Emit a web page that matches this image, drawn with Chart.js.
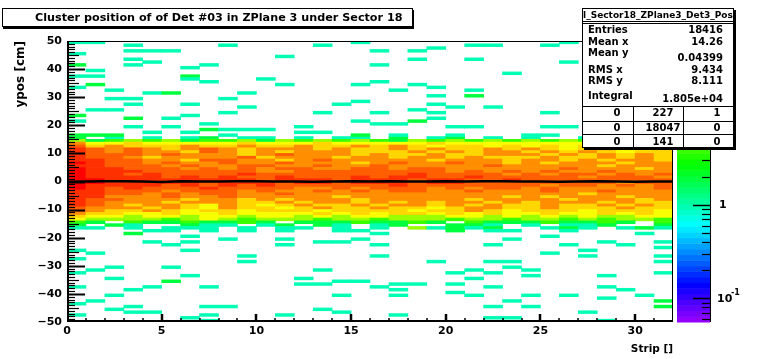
<!DOCTYPE html>
<html>
<head>
<meta charset="utf-8">
<script src="https://cdn.jsdelivr.net/npm/chart.js@4.4.1/dist/chart.umd.min.js"></script>
<style>
    html, body { margin: 0; padding: 0; background: #fff; }
    #wrap { position: relative; width: 775px; height: 359px; font-family: "DejaVu Sans", sans-serif; font-weight: bold; color: #000; }
    #wrap canvas { position: absolute; left: 0; top: 0; }
    .title-box { position: absolute; left: 2px; top: 8px; width: 411px; height: 19px; box-sizing: border-box; border: 1px solid #000; box-shadow: 1px 2px 0 #000; background: #fff; }
    .title-box span { position: absolute; left: 32px; top: 0; line-height: 17px; font-size: 11.2px; white-space: nowrap; }
    .stats { position: absolute; left: 582px; top: 8px; width: 152px; height: 140px; box-sizing: border-box; border: 1px solid #000; box-shadow: 2px 2px 0 #000; background: #fff; font-size: 10px; }
    .stats div { position: absolute; white-space: nowrap; line-height: 12px; height: 12px; }
    .stats .hline { height: 1px; background: #000; left: 0; right: 0; }
    .stats .vline { width: 1px; background: #000; top: 97px; bottom: 0; height: auto; }
    .stats .lbl { left: 5px; }
    .stats .val { right: 10px; text-align: right; }
    .stats .cell { width: 40px; margin-left: -20px; text-align: center; }
</style>
</head>
<body>
<div id="wrap">
    <canvas id="chart" width="775" height="359"></canvas>
    <div class="title-box"><span>Cluster position of of Det #03 in ZPlane 3 under Sector 18</span></div>
    <div class="stats">
        <div style="left:0;right:0;top:0;text-align:center;font-size:9px;">l_Sector18_ZPlane3_Det3_Pos</div>
        <div class="hline" style="top:12px"></div>
        <div class="hline" style="top:14px"></div>
        <div class="lbl" style="top:15px">Entries</div><div class="val" style="top:15px">18416</div>
        <div class="lbl" style="top:27px">Mean x</div><div class="val" style="top:27px">14.26</div>
        <div class="lbl" style="top:38px">Mean y</div><div class="val" style="top:43px">0.04399</div>
        <div class="lbl" style="top:55px">RMS x</div><div class="val" style="top:55px">9.434</div>
        <div class="lbl" style="top:66px">RMS y</div><div class="val" style="top:66px">8.111</div>
        <div class="lbl" style="top:81px">Integral</div><div class="val" style="top:84px">1.805e+04</div>
        <div class="hline" style="top:97px"></div>
        <div class="hline" style="top:112px"></div>
        <div class="hline" style="top:125px"></div>
        <div class="vline" style="left:50px"></div>
        <div class="vline" style="left:100px"></div>
        <div class="cell" style="left:34px;top:98px">0</div><div class="cell" style="left:80px;top:98px">227</div><div class="cell" style="left:134px;top:98px">1</div>
        <div class="cell" style="left:34px;top:113px">0</div><div class="cell" style="left:80px;top:113px">18047</div><div class="cell" style="left:134px;top:113px">0</div>
        <div class="cell" style="left:34px;top:127px">0</div><div class="cell" style="left:80px;top:127px">141</div><div class="cell" style="left:134px;top:127px">0</div>
    </div>
</div>
<script>
// colour scale range (log z)
const zMin = 0.056;
const zMax = 56;

// entries per letter used in the dense band
const levelCounts = { a: 1, b: 2, c: 4, d: 7, e: 11, f: 16, g: 22, h: 30, i: 40, j: 52 };

// dense band, one row per 1 cm bin, from bin [15,16) down to [-17,-16); one char per strip 0..31
const coreTopBin = 15;
const coreRows = [
    'b.a.a.ab .aa.a.aa .b.ab.a. a..a.a.a',
    'dbcdcdbc cdbdcdcd cbdcdcdc dcdcdcbc',
    'geefeeee efeeefee eeefeeee eeeeefee',
    'hfgfffgf fgffgffg fgfeffef efefeeff',
    'ihghgfgh gfgggfgf fgfgffgf gfefgfef',
    'ihghggfh gfgfgggf ffgfgfgg fgfgfeff',
    'ihhhghgg gfghgggf gffgffgg gfgfgfgf',
    'ihhgfggg ghfgggfg gfggfgff fgffgfgf',
    'iihhggfh hggfghgg gggfgggf ggfgfggf',
    'jihhghgg hgghgggf ghgghggf gfgggfgg',
    'iihhhghg ghhgghgg hggggghg ggggfggg',
    'jiihhhgh ghghhggh hghhgggg gghgggfg',
    'jiiihhhh hhgghhhh hhhhghgh ghgghggg',
    'jiihihhh hihhhhhh hhihhhhg hghhghgh',
    'jiiiihih ihhihhhi hiihhihh hhhghhhg',
    'jjiiiiii iihiiihi iihiihhi hhhhhhhh',
    'jjiiiiih iiihiihi iihiihhh hhhhhghh',
    'jiiiihih ihihhhhh hihhhhhh hghhghgh',
    'jihihhhi hhhhgghg hhhghghh ghgggggh',
    'iihhhghh hghgghgh ghhgghgg ghgghggg',
    'iihhghgh hgghgggg gggggggg gggfgggg',
    'iiggghgg hgggggfg gggggggf gfgggfgg',
    'ihhgggfg gfgfgggf gggggfgg ggfgggfg',
    'ihgggfgg gffgfggf gfgfggfg fgggfgff',
    'ihgfggfe gfefgffg fggfgfgf fgffgfgf',
    'hgggfgfe gffefgff gffefggf fgfffgff',
    'hgffgfef fefffeff ffeffgfe fffefffe',
    'gffeefee feeeefef effefefe efeefefe',
    'feedeede edeedede edddeede dededdee',
    'eddddcde dcdddcdd cdddcddc ddcdcddc',
    'cb.cbbcb bcb.bbbc bbcb.cbb bcbbcb.c',
    'b.ba..ba a.ab.ba. ab..bba. a.aab..b',
    'aa.a.aaa .a.aa.a. a.dabab. .aba.aba'
];

// isolated cells outside the band: [strip, y bin lower edge (cm), entries]
const isolatedCells = [
    [0,49,1],[1,49,1],[3,48,1],[8,48,1],[13,48,1],[15,49,1],
    [0,45,1],[3,46,1],[4,46,1],[5,46,1],[11,44,1],[3,43,1],[4,42,1],[3,41,1],[0,41,2],[7,41,1],
    [1,39,1],[6,40,1],[6,37,2],[6,36,1],[0,37,1],[1,37,1],[10,36,1],[7,35,1],[1,34,2],[0,33,1],
    [11,34,1],[15,34,1],[2,32,1],[4,31,1],[5,31,2],[9,31,1],[2,29,1],[3,29,1],[8,29,1],
    [3,27,1],[6,27,1],[9,26,1],[14,27,1],[15,28,1],[1,25,1],[2,25,1],[0,23,2],[3,22,2],
    [5,22,1],[6,23,1],[8,24,1],[13,24,1],[0,21,1],[3,19,1],[5,19,1],[4,17,1],[6,17,1],
    [7,20,1],[7,18,2],[8,18,1],[9,18,1],[10,18,1],[12,19,1],[12,17,1],[13,17,1],[15,21,1],
    [15,16,2],[0,16,2],[1,16,2],[2,16,2],[8,16,1],
    [21,48,1],[22,48,1],[25,48,1],[26,49,1],[16,46,1],[18,46,1],[19,47,1],[18,43,1],[21,43,1],
    [26,42,1],[16,41,1],[23,38,1],[16,35,1],[18,34,1],[17,32,1],[19,33,1],[21,32,1],[21,30,2],
    [19,30,1],[19,27,1],[20,26,1],[22,26,1],[18,25,1],[16,24,1],[19,24,1],[19,22,1],[25,24,1],
    [18,21,2],[16,20,1],[17,20,1],[20,19,1],[21,19,1],[25,19,1],[26,19,1],[17,16,1],[20,16,1],
    [24,16,1],[25,16,1],
    [3,-19,2],[4,-18,1],[5,-18,1],[7,-18,1],[9,-18,1],[11,-18,1],[14,-18,1],[15,-18,1],
    [6,-20,1],[8,-21,1],[11,-21,1],[11,-23,1],[4,-22,1],[5,-23,1],[6,-22,1],[13,-22,1],[14,-22,1],
    [15,-21,1],[0,-25,1],[1,-26,1],[6,-25,1],[9,-27,1],[9,-29,1],[0,-28,1],[2,-31,1],[1,-32,1],
    [5,-31,1],[0,-33,1],[13,-32,1],[6,-34,1],[2,-35,1],[5,-36,2],[12,-35,1],[12,-37,1],[13,-37,1],
    [14,-36,1],[15,-36,1],[0,-38,1],[4,-38,1],[7,-38,1],[3,-39,1],[2,-41,1],[14,-41,1],[1,-43,1],
    [0,-44,1],[2,-46,1],[3,-45,1],[3,-47,1],[4,-47,1],[7,-45,1],[8,-45,1],[13,-46,1],[14,-47,1],
    [0,-48,1],[6,-49,1],[7,-48,1],[7,-50,1],[11,-48,1],
    [16,-19,1],[20,-18,2],[22,-18,1],[23,-18,1],[23,-21,1],[25,-20,1],[26,-18,1],[30,-19,1],
    [16,-23,1],[22,-23,1],[26,-23,1],[28,-22,1],[29,-23,1],[31,-22,1],[31,-24,1],[27,-25,1],
    [27,-27,1],[25,-26,1],[16,-27,1],[31,-27,1],[31,-29,1],[19,-29,1],[22,-29,1],[23,-29,1],
    [23,-31,1],[21,-32,1],[24,-32,1],[20,-33,1],[22,-33,1],[24,-34,1],[21,-35,1],[28,-34,1],
    [31,-33,1],[16,-38,1],[17,-37,1],[18,-37,1],[17,-39,1],[20,-37,1],[20,-40,1],[22,-38,1],
    [28,-38,1],[29,-39,1],[17,-41,1],[21,-41,1],[24,-41,1],[26,-41,1],[30,-41,1],[28,-42,1],
    [23,-43,1],[31,-43,2],[31,-45,2],[22,-45,1],[24,-45,1],[27,-47,1],[17,-48,1],[22,-49,1],
    [23,-49,1],[28,-50,1]
];

// black line near y = 0, one value per strip edge 0..32
const meanY = [-0.1, 0.0, 0.1, 0.1, 0.0, -0.2, 0.1, 0.0, 0.0, 0.1, 0.1, 0.0, 0.0, -0.1, 0.0, 0.1, 0.0,
    0.1, 0.0, 0.0, 0.1, 0.0, 0.1, 0.1, 0.0, 0.0, -0.1, 0.0, 0.1, 0.0, -0.1, 0.0, 0.0];

// colour bar
const zMajor = [0.1, 1, 10];
const zMinor = [0.06, 0.07, 0.08, 0.09, 0.2, 0.3, 0.4, 0.5, 0.6, 0.7, 0.8, 0.9, 2, 3, 4, 5, 6, 7, 8, 9, 20, 30, 40, 50];
const NUM_COLORS = 50;

const FONT = '"DejaVu Sans", sans-serif';

// ROOT "pretty" palette: HLS with l=0.5, s=1
function hueColor(h) {
    const f = n => {
        const k = (n + h / 30) % 12;
        return 0.5 - 0.5 * Math.max(-1, Math.min(k - 3, 9 - k, 1));
    };
    return `rgb(${Math.round(255 * f(0))},${Math.round(255 * f(8))},${Math.round(255 * f(4))})`;
}
function paletteColor(i) {
    return hueColor(280 - (i + 1) * (280 / NUM_COLORS));
}
function countColor(n) {
    const lo = Math.log10(zMin), hi = Math.log10(zMax);
    let idx = Math.floor(NUM_COLORS * (Math.log10(n) - lo) / (hi - lo));
    idx = Math.max(0, Math.min(NUM_COLORS - 1, idx));
    return paletteColor(idx);
}

const cells = [];
coreRows.forEach((row, r) => {
    const bin = coreTopBin - r;
    [...row.replace(/ /g, '')].forEach((ch, s) => {
        const n = levelCounts[ch];
        if (n) cells.push({ x: s + 0.5, y: [bin, bin + 1], n: n });
    });
});
isolatedCells.forEach(([s, b, n]) => cells.push({ x: s + 0.5, y: [b, b + 1], n: n }));

const meanPoints = meanY.map((v, i) => ({ x: i, y: v }));

function strokeSeg(ctx, x0, y0, x1, y1, w) {
    ctx.lineWidth = w;
    ctx.beginPath();
    ctx.moveTo(x0, y0);
    ctx.lineTo(x1, y1);
    ctx.stroke();
}

const rootFrame = {
    id: 'rootFrame',
    afterDraw(chart) {
        const ctx = chart.ctx;
        const a = chart.chartArea;
        const sx = chart.scales.x, sy = chart.scales.y, sz = chart.scales.z;
        ctx.save();
        ctx.strokeStyle = '#000';

        // frame
        ctx.lineWidth = 1;
        ctx.strokeRect(a.left + 0.5, a.top + 0.5, a.right - a.left - 1, a.bottom - a.top - 1);
        strokeSeg(ctx, a.left + 1, a.top, a.left + 1, a.bottom, 2);
        strokeSeg(ctx, a.left, a.bottom - 1, a.right, a.bottom - 1, 2);

        // x ticks, inward
        for (let v = 1; v < 32; v++) {
            const px = Math.round(sx.getPixelForValue(v));
            const major = v % 5 === 0;
            strokeSeg(ctx, px, a.bottom, px, a.bottom - (major ? 8 : 4), major ? 2.5 : 1.5);
        }
        // y ticks, inward
        for (let v = -49; v < 50; v++) {
            const py = Math.round(sy.getPixelForValue(v)) + 0.5;
            const len = v % 10 === 0 ? 18 : (v % 5 === 0 ? 12 : 8);
            strokeSeg(ctx, a.left, py, a.left + len, py, v % 10 === 0 ? 2 : 1.2);
        }

        // colour bar
        const bx0 = a.right + 4, bx1 = a.right + 37;
        const lo = Math.log10(zMin), hi = Math.log10(zMax);
        for (let i = 0; i < NUM_COLORS; i++) {
            const z0 = Math.pow(10, lo + (hi - lo) * i / NUM_COLORS);
            const z1 = Math.pow(10, lo + (hi - lo) * (i + 1) / NUM_COLORS);
            const p0 = sz.getPixelForValue(z0), p1 = sz.getPixelForValue(z1);
            ctx.fillStyle = paletteColor(i);
            ctx.fillRect(bx0, p1, bx1 - bx0, p0 - p1 + 0.5);
        }
        strokeSeg(ctx, bx1 + 0.5, sz.top, bx1 + 0.5, sz.bottom, 1);
        zMajor.concat(zMinor).forEach(v => {
            const py = Math.round(sz.getPixelForValue(v)) + 0.5;
            const major = zMajor.includes(v);
            strokeSeg(ctx, bx1, py, bx1 - (major ? 17 : 8), py, major ? 1.5 : 1.2);
        });

        // colour bar labels
        ctx.fillStyle = '#000';
        ctx.textBaseline = 'middle';
        ctx.textAlign = 'left';
        ctx.font = `bold 11px ${FONT}`;
        ctx.fillText('1', bx1 + 9, sz.getPixelForValue(1));
        ctx.fillText('10', bx1 + 7, sz.getPixelForValue(10));
        const p01 = sz.getPixelForValue(0.1);
        ctx.fillText('10', bx1 + 7, p01 + 1);
        ctx.font = `bold 8px ${FONT}`;
        ctx.fillText('-1', bx1 + 21, p01 - 5);
        ctx.restore();
    }
};

Chart.defaults.font.family = FONT;
Chart.defaults.font.weight = 'bold';
Chart.defaults.color = '#000';

new Chart(document.getElementById('chart'), {
    type: 'bar',
    data: {
        datasets: [
            {
                type: 'line',
                data: meanPoints,
                borderColor: '#000',
                borderWidth: 2.5,
                pointRadius: 0,
                order: 0
            },
            {
                type: 'bar',
                data: cells,
                backgroundColor: cells.map(c => countColor(c.n)),
                borderWidth: 0,
                barPercentage: 1,
                categoryPercentage: 1,
                grouped: false,
                order: 1
            }
        ]
    },
    options: {
        responsive: false,
        animation: false,
        devicePixelRatio: 1,
        layout: { padding: { top: 41, left: 0, right: 0, bottom: 0 } },
        plugins: { legend: { display: false }, tooltip: { enabled: false } },
        scales: {
            x: {
                type: 'linear',
                min: 0,
                max: 32,
                offset: false,
                grid: { display: false, drawTicks: false },
                border: { display: false },
                ticks: { stepSize: 5, includeBounds: false, padding: 3, maxRotation: 0, font: { size: 11, weight: 'bold' } },
                title: { display: true, text: 'Strip []', align: 'end', padding: { top: 0, bottom: 3 }, font: { size: 10.5, weight: 'bold' } },
                afterFit: s => { s.height = 37; }
            },
            y: {
                type: 'linear',
                min: -50,
                max: 50,
                grid: { display: false, drawTicks: false },
                border: { display: false },
                ticks: {
                    stepSize: 10,
                    padding: 5,
                    font: { size: 11, weight: 'bold' },
                    callback: v => v < 0 ? '\u2212' + Math.abs(v) : String(v)
                },
                title: { display: true, text: 'ypos [cm]', align: 'end', padding: { top: 14, bottom: 0 }, font: { size: 12, weight: 'bold' } },
                afterFit: s => { s.width = 67; }
            },
            z: {
                type: 'logarithmic',
                position: 'right',
                min: zMin,
                max: zMax,
                grid: { display: false, drawTicks: false },
                border: { display: false },
                ticks: { display: false },
                afterFit: s => { s.width = 102; }
            }
        }
    },
    plugins: [rootFrame]
});
</script>
</body>
</html>
